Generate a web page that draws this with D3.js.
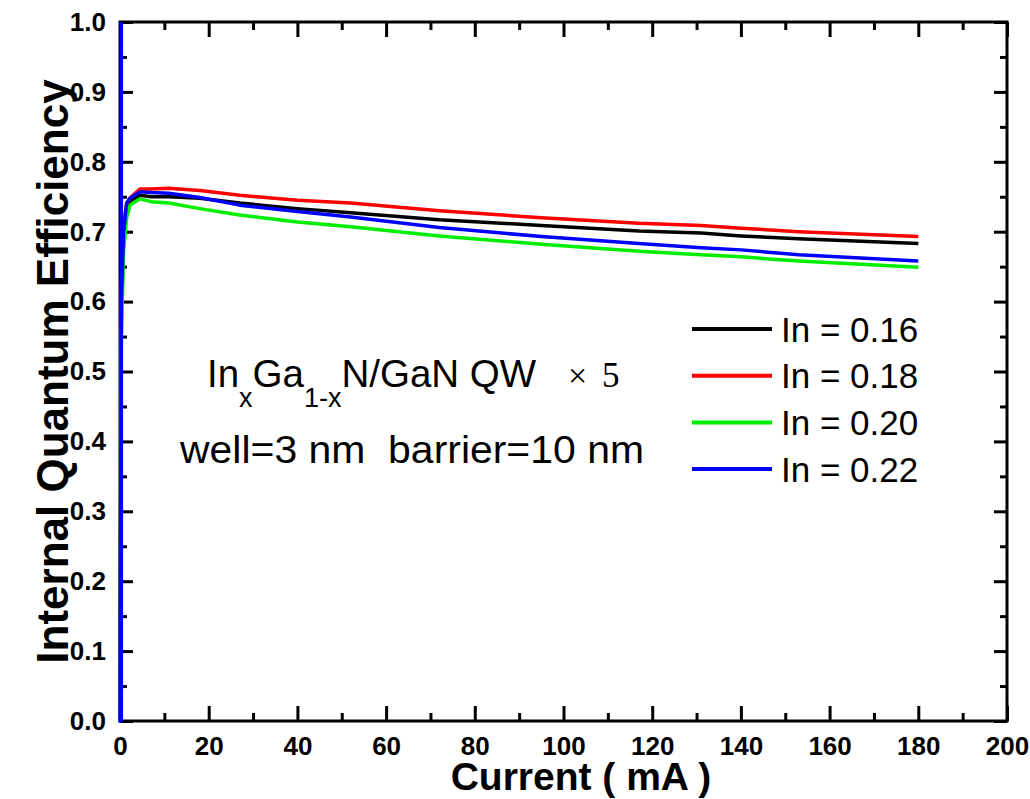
<!DOCTYPE html>
<html>
<head>
<meta charset="utf-8">
<script src="https://cdn.jsdelivr.net/npm/d3@7"></script>
<style>
  body { margin: 0; background: #fff; }
  svg text { font-family: "Liberation Sans", Arial, sans-serif; }
</style>
</head>
<body>
<div class="svg-target"></div>
<script>
const w = 1030;
const h = 799;
const margin = { left: 120, right: 23, top: 22, bottom: 78 };

// data
const current = [0, 0.3, 0.8, 1.5, 2.25, 4.5, 7, 11, 18, 27, 40, 52, 72, 95, 117, 131, 140, 153, 180];
const in016 = [0, 0.58, 0.69, 0.73, 0.744, 0.752, 0.750, 0.750, 0.748, 0.741, 0.733, 0.727, 0.717, 0.709, 0.701, 0.698, 0.694, 0.690, 0.683];
const in018 = [0, 0.62, 0.71, 0.74, 0.748, 0.761, 0.761, 0.762, 0.759, 0.752, 0.745, 0.741, 0.730, 0.720, 0.712, 0.709, 0.705, 0.700, 0.693];
const in020 = [0, 0.55, 0.67, 0.72, 0.738, 0.747, 0.743, 0.741, 0.733, 0.724, 0.714, 0.707, 0.694, 0.682, 0.672, 0.667, 0.664, 0.658, 0.649];
const in022 = [0, 0.60, 0.70, 0.741, 0.748, 0.757, 0.756, 0.755, 0.749, 0.738, 0.729, 0.721, 0.706, 0.693, 0.683, 0.677, 0.674, 0.667, 0.658];
// the blue trace starts with a spike along the y axis
const blueLeadCurrent = [0.3, 0.3];
const blueLeadValue = [1.0, 0.0];

const seriesNames = ['In = 0.16', 'In = 0.18', 'In = 0.20', 'In = 0.22'];
const seriesColors = ['#000000', '#ff0000', '#00ee00', '#0000ff'];

const xTicks = [0, 20, 40, 60, 80, 100, 120, 140, 160, 180, 200];
const yTicks = [0.0, 0.1, 0.2, 0.3, 0.4, 0.5, 0.6, 0.7, 0.8, 0.9, 1.0];

const series = [
    current.map((c, i) => [c, in016[i]]),
    current.map((c, i) => [c, in018[i]]),
    current.map((c, i) => [c, in020[i]]),
    blueLeadCurrent.map((c, i) => [c, blueLeadValue[i]]).concat(current.map((c, i) => [c, in022[i]]))
];

const svg = d3.select('.svg-target')
    .append('svg')
    .attr('width', w)
    .attr('height', h);

const xScale = d3.scaleLinear().domain([0, 200]).range([margin.left, w - margin.right]);
const yScale = d3.scaleLinear().domain([0, 1]).range([h - margin.bottom, margin.top]);

const x0 = xScale(0), x1 = xScale(200), y0 = yScale(0), y1 = yScale(1);

// ticks point inward, no domain path (frame drawn separately)
function styleAxis(g) {
    g.select('.domain').remove();
    g.selectAll('line').attr('stroke', '#000').attr('stroke-width', 3);
}

const xMinor = d3.range(10, 200, 20);
const yMinor = d3.range(0.05, 1, 0.1);

// bottom
svg.append('g').attr('transform', `translate(0,${y0})`)
    .call(d3.axisBottom(xScale).tickValues(xTicks).tickSize(-15).tickPadding(16).tickFormat(d3.format('d')))
    .call(styleAxis)
    .selectAll('text').attr('font-size', 26).attr('font-weight', 'bold').attr('fill', '#000');
svg.append('g').attr('transform', `translate(0,${y0})`)
    .call(d3.axisBottom(xScale).tickValues(xMinor).tickSize(-8).tickFormat(''))
    .call(styleAxis);
// top
svg.append('g').attr('transform', `translate(0,${y1})`)
    .call(d3.axisTop(xScale).tickValues(xTicks).tickSize(-15).tickFormat(''))
    .call(styleAxis);
svg.append('g').attr('transform', `translate(0,${y1})`)
    .call(d3.axisTop(xScale).tickValues(xMinor).tickSize(-8).tickFormat(''))
    .call(styleAxis);
// left
svg.append('g').attr('transform', `translate(${x0},0)`)
    .call(d3.axisLeft(yScale).tickValues(yTicks).tickSize(-13).tickPadding(14).tickFormat(d3.format('.1f')))
    .call(styleAxis)
    .selectAll('text').attr('font-size', 26).attr('font-weight', 'bold').attr('fill', '#000');
svg.append('g').attr('transform', `translate(${x0},0)`)
    .call(d3.axisLeft(yScale).tickValues(yMinor).tickSize(-7).tickFormat(''))
    .call(styleAxis);
// right
svg.append('g').attr('transform', `translate(${x1},0)`)
    .call(d3.axisRight(yScale).tickValues(yTicks).tickSize(-13).tickFormat(''))
    .call(styleAxis);
svg.append('g').attr('transform', `translate(${x1},0)`)
    .call(d3.axisRight(yScale).tickValues(yMinor).tickSize(-7).tickFormat(''))
    .call(styleAxis);

// frame
svg.append('rect')
    .attr('x', x0).attr('y', y1)
    .attr('width', x1 - x0).attr('height', y0 - y1)
    .attr('fill', 'none').attr('stroke', '#000').attr('stroke-width', 3);

// lines
const line = d3.line().x(d => xScale(d[0])).y(d => yScale(d[1]));
series.forEach((s, i) => {
    svg.append('path')
        .datum(s)
        .attr('d', line)
        .attr('fill', 'none')
        .attr('stroke', seriesColors[i])
        .attr('stroke-width', 3.5)
        .attr('stroke-linejoin', 'round');
});

// axis titles
svg.append('text')
    .attr('x', 581).attr('y', 790)
    .attr('text-anchor', 'middle')
    .attr('font-size', 39).attr('font-weight', 'bold')
    .text('Current ( mA )');

svg.append('text')
    .attr('transform', `translate(68,${(y0 + y1) / 2}) rotate(-90)`)
    .attr('text-anchor', 'middle')
    .attr('font-size', 44).attr('font-weight', 'bold')
    .text('Internal Quantum Efficiency');

// legend
const legend = svg.append('g');
seriesNames.forEach((name, i) => {
    const ly = 329 + i * 46.7;
    legend.append('line')
        .attr('x1', 692).attr('x2', 772).attr('y1', ly).attr('y2', ly)
        .attr('stroke', seriesColors[i]).attr('stroke-width', 4);
    legend.append('text')
        .attr('x', 781).attr('y', ly + 12.5)
        .attr('font-size', 35)
        .text(name);
});

// annotation
const note = svg.append('text').attr('x', 207).attr('y', 387).attr('font-size', 38.5);
note.append('tspan').text('In');
note.append('tspan').attr('font-size', 27).attr('dy', 20).text('x');
note.append('tspan').attr('dy', -20).text('Ga');
note.append('tspan').attr('font-size', 27).attr('dy', 20).text('1-x');
note.append('tspan').attr('dy', -20).text('N/GaN QW');
note.append('tspan').attr('x', 568)
    .style('font-family', '"Liberation Serif", "Times New Roman", serif')
    .attr('font-size', 34).text('\u00d7');
note.append('tspan').attr('x', 602)
    .style('font-family', '"Liberation Serif", "Times New Roman", serif')
    .attr('font-size', 35).text('5');

svg.append('text')
    .attr('x', 180).attr('y', 463)
    .attr('font-size', 38)
    .attr('textLength', 464)
    .attr('lengthAdjust', 'spacingAndGlyphs')
    .style('white-space', 'pre')
    .text('well=3 nm  barrier=10 nm');
</script>
</body>
</html>
